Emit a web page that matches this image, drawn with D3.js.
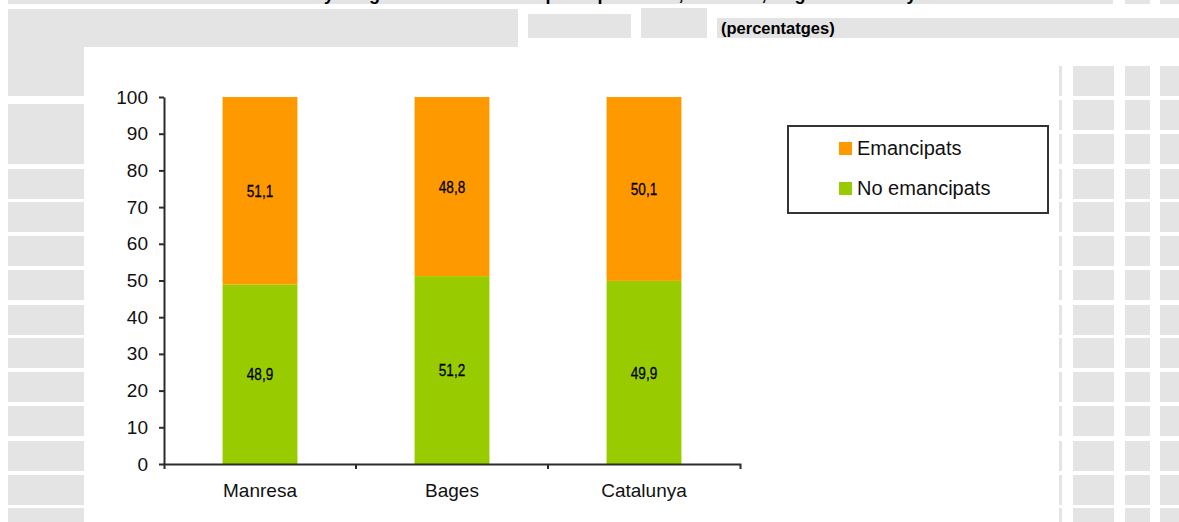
<!DOCTYPE html>
<html>
<head>
<meta charset="utf-8">
<script src="https://cdn.jsdelivr.net/npm/d3@7"></script>
<style>
  html, body { margin: 0; padding: 0; background: #ffffff; overflow: hidden; }
  svg { display: block; font-family: "Liberation Sans", Arial, sans-serif; }
</style>
</head>
<body>
<svg id="chart" width="1179" height="522"></svg>
<script>
// ---- data ----
const categories = ["Manresa", "Bages", "Catalunya"];
const noEmancipats = [48.9, 51.2, 49.9];
const emancipats = [51.1, 48.8, 50.1];
const seriesNames = ["Emancipats", "No emancipats"];
const yTicks = [0, 10, 20, 30, 40, 50, 60, 70, 80, 90, 100];
const titleText = "Població de 16 a 34 anys segons nivell d'emancipació per àmbit, Manresa, Bages i Catalunya";
const subtitleText = "(percentatges)";

// ---- style ----
const colors = { "Emancipats": "#ff9900", "No emancipats": "#99cc00" };
const gray = "#e4e4e4";
const axisColor = "#2b2b2b";

const svg = d3.select("#chart");

// ---- spreadsheet-like background cells (decoration) ----
const bg = svg.append("g");
const rowStarts = [104, 134, 169, 202, 236, 270, 305, 338, 372, 406, 441, 475, 508];
const rightRowStarts = [66, 100].concat(rowStarts.slice(1));
// top title band
[[8, 1113], [1125, 1150], [1160, 1179]].forEach(([a, b]) =>
  bg.append("rect").attr("x", a).attr("y", 0).attr("width", b - a).attr("height", 4).attr("fill", gray));
// second row cells
[[8, 9, 518, 47], [528, 14, 631, 38], [641, 8, 707, 38], [717, 18, 1179, 38], [8, 47, 84, 96]].forEach(([x0, y0, x1, y1]) =>
  bg.append("rect").attr("x", x0).attr("y", y0).attr("width", x1 - x0).attr("height", y1 - y0).attr("fill", gray));
// left column
rowStarts.forEach(r => bg.append("rect").attr("x", 8).attr("y", r).attr("width", 76)
  .attr("height", Math.min(30, 522 - r)).attr("fill", gray));
// right columns
const rightCols = [[1059, 1062], [1073, 1114], [1125, 1150], [1160, 1179]];
rightRowStarts.forEach(r => rightCols.forEach(([a, b]) =>
  bg.append("rect").attr("x", a).attr("y", r).attr("width", b - a)
    .attr("height", Math.min(30, 522 - r)).attr("fill", gray)));

// ---- title (cut at the top as in the reference: only descenders show) ----
const title = svg.append("text")
  .attr("x", 0).attr("y", -0.5)
  .attr("font-weight", "bold").attr("font-size", 18).attr("fill", "#000")
  .text(titleText);
{
  const idx = titleText.indexOf("anys") + 2;
  const pos = title.node().getStartPositionOfChar(idx).x;
  title.attr("x", 324 - pos);
}
svg.append("text")
  .attr("x", 721).attr("y", 34)
  .attr("font-weight", "bold").attr("font-size", 16.5).attr("fill", "#000")
  .text(subtitleText);

// ---- scales ----
const x = d3.scaleBand().domain(categories).range([164, 740]).padding(0);
const y = d3.scaleLinear().domain([0, 100]).range([464, 97]);
const barFrac = 0.39;

// ---- bars ----
const stacked = categories.map((c, i) => [
  { cat: c, name: "No emancipats", y0: 0, y1: noEmancipats[i], v: noEmancipats[i] },
  { cat: c, name: "Emancipats", y0: noEmancipats[i], y1: noEmancipats[i] + emancipats[i], v: emancipats[i] }
]).flat();

const bw = x.bandwidth() * barFrac;
const bars = svg.append("g");
bars.selectAll("rect").data(stacked).join("rect")
  .attr("x", d => x(d.cat) + (x.bandwidth() - bw) / 2)
  .attr("width", bw)
  .attr("y", d => y(d.y1))
  .attr("height", d => y(d.y0) - y(d.y1))
  .attr("fill", d => colors[d.name]);

bars.selectAll("text").data(stacked).join("text")
  .attr("transform", d => `translate(${x(d.cat) + x.bandwidth() / 2},${y((d.y0 + d.y1) / 2)}) scale(0.8,1)`)
  .attr("text-anchor", "middle")
  .attr("dominant-baseline", "central")
  .attr("font-size", 17).attr("fill", "#000")
  .attr("stroke", "#000").attr("stroke-width", 0.3)
  .text(d => d3.format(".1f")(d.v).replace(".", ","));

// ---- axes ----
const yAxis = svg.append("g").attr("transform", "translate(164,0)")
  .call(d3.axisLeft(y).tickValues(yTicks).tickSize(5).tickSizeOuter(0).tickPadding(11));
const xAxis = svg.append("g").attr("transform", "translate(0,464)")
  .call(d3.axisBottom(x).tickSize(0).tickSizeOuter(5).tickPadding(19.5));
// category boundary ticks
xAxis.selectAll("line.bound").data(categories.slice(1)).join("line")
  .attr("class", "bound")
  .attr("x1", d => x(d)).attr("x2", d => x(d))
  .attr("y1", 0).attr("y2", 5);

[yAxis, xAxis].forEach(g => {
  g.selectAll("path, line").attr("stroke", axisColor).attr("stroke-width", 2);
  g.selectAll("text").attr("font-size", 19).attr("fill", "#111")
    .attr("font-family", "'Liberation Sans', Arial, sans-serif");
});

// ---- legend ----
const lg = svg.append("g");
lg.append("rect").attr("x", 788).attr("y", 126).attr("width", 260).attr("height", 87)
  .attr("fill", "#fff").attr("stroke", "#333").attr("stroke-width", 2);
seriesNames.forEach((n, i) => {
  const yy = 142 + i * 40;
  lg.append("rect").attr("x", 839).attr("y", yy).attr("width", 13).attr("height", 13)
    .attr("fill", colors[n]);
  lg.append("text").attr("x", 857).attr("y", yy + 13)
    .attr("font-size", 20).attr("fill", "#111").text(n);
});
</script>
</body>
</html>
